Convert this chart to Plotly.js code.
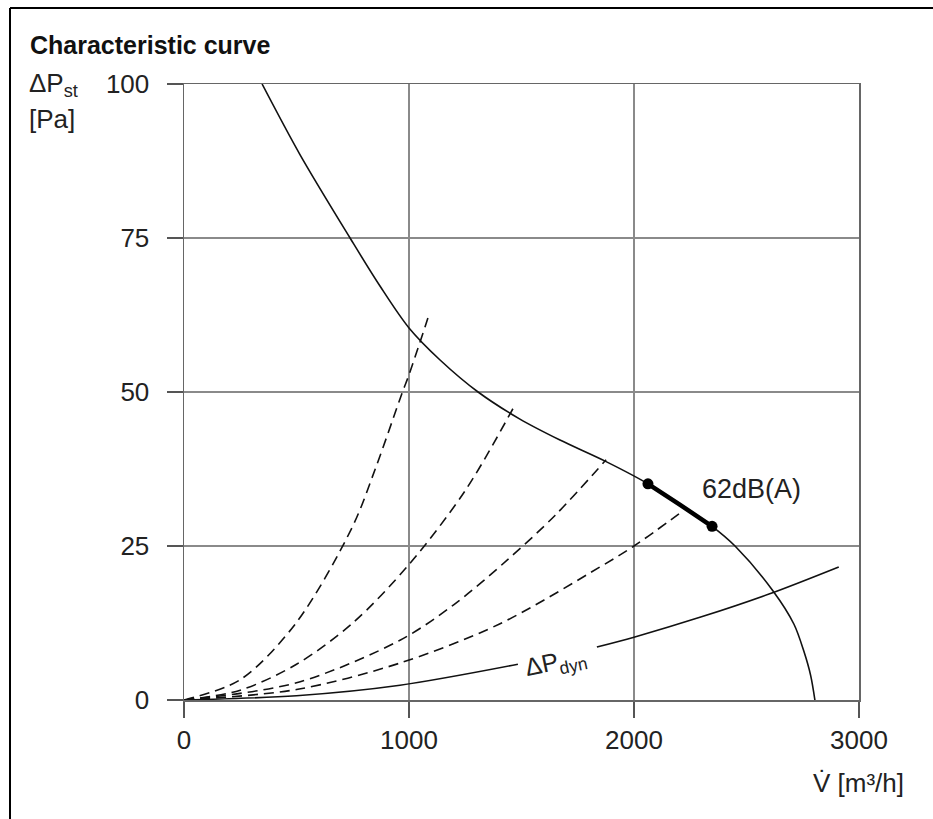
<!DOCTYPE html>
<html>
<head>
<meta charset="utf-8">
<script src="https://cdn.plot.ly/plotly-3.0.1.min.js"></script>
<style>html,body{margin:0;padding:0;background:#fff;}</style>
</head>
<body>
<div id="chart" style="width:933px;height:819px;"></div>
<script>
// ---- data ----
const fanV = [347, 516, 738, 871, 1000, 1138, 1307, 1493, 1671, 1876, 2062, 2200, 2347, 2449, 2618, 2711, 2755, 2785, 2804];
const fanP = [100, 88.5, 75, 67.2, 60.4, 55.2, 50, 45.6, 42.2, 38.7, 35.1, 31.8, 28.2, 25, 17.7, 12.3, 7.9, 4, 0];

const opV = [2062, 2200, 2347];
const opP = [35.1, 31.8, 28.2];
const opEndsV = [2062, 2347];
const opEndsP = [35.1, 28.2];

const sys1V = [0, 250, 498, 747, 850, 969, 1000, 1084];
const sys1P = [0, 3.3, 12.5, 28, 37.5, 49.8, 52.8, 62];
const sys2V = [0, 250, 500, 750, 1000, 1250, 1471];
const sys2P = [0, 1.6, 5.8, 12.5, 22, 34, 47.9];
const sys3V = [0, 500, 960, 1200, 1436, 1650, 1876];
const sys3P = [0, 2.8, 9.7, 15.5, 22.7, 30, 39];
const sys4V = [0, 500, 960, 1400, 1849, 2000, 2218];
const sys4P = [0, 1.7, 6.0, 12.3, 21.6, 25, 30.7];

const dynAV = [0, 500, 960, 1484];
const dynAP = [0, 0.7, 2.4, 5.8];
const dynBV = [1835, 2000, 2300, 2600, 2910];
const dynBP = [8.6, 10.2, 13.5, 17.2, 21.6];

const xTicks = [0, 1000, 2000, 3000];
const yTicks = [0, 25, 50, 75, 100];

const labelNoise = {text: '62dB(A)', V: 2520, P: 34.3};
const labelDyn = {text: '\u0394P<sub>dyn</sub>', V: 1653, P: 6.0};

// ---- drawing ----
const FONT = 'Liberation Sans, Arial, sans-serif';
const line = (x, y, opts) => Object.assign({
  x: x, y: y, type: 'scatter', mode: 'lines', hoverinfo: 'skip',
  line: {color: '#111', width: 1.6, shape: 'spline', smoothing: 0.9}
}, opts || {});

const dashStyle = {color: '#111', width: 1.6, dash: '10px,6px', shape: 'spline', smoothing: 0.9};

const traces = [
  line(sys1V, sys1P, {line: dashStyle}),
  line(sys2V, sys2P, {line: dashStyle}),
  line(sys3V, sys3P, {line: dashStyle}),
  line(sys4V, sys4P, {line: dashStyle}),
  line(dynAV, dynAP),
  line(dynBV, dynBP),
  line(fanV, fanP),
  line(opV, opP, {line: {color: '#000', width: 4.5, shape: 'spline'}}),
  {x: opEndsV, y: opEndsP, type: 'scatter', mode: 'markers', hoverinfo: 'skip',
   marker: {color: '#000', size: 11}}
];

// pixel helpers for paper coords
const L = 184, R = 859, T = 84, B = 700;
const px = v => (v - L) / (R - L);
const py = v => (B - v) / (B - T);

const layout = {
  width: 933, height: 819, autosize: false,
  margin: {l: L, r: 933 - R, t: T, b: 819 - B, pad: 0},
  paper_bgcolor: '#fff', plot_bgcolor: '#fff',
  showlegend: false,
  font: {family: FONT, color: '#222', size: 26},
  title: {
    text: '<b>Characteristic curve</b>',
    font: {family: FONT, size: 25, color: '#111'},
    xref: 'container', yref: 'container',
    x: 30 / 933, xanchor: 'left', y: 1 - 45 / 819, yanchor: 'middle'
  },
  xaxis: {
    range: [0, 3000], tickvals: xTicks, ticktext: xTicks.map(String),
    ticks: 'outside', ticklen: 16, tickwidth: 1.5, tickcolor: '#555',
    ticklabelstandoff: 0,
    showgrid: true, gridcolor: '#8a8a8a', gridwidth: 1.5,
    showline: true, linecolor: '#666', linewidth: 1.5, mirror: true,
    zeroline: false, fixedrange: true,
    tickfont: {family: FONT, size: 26, color: '#222'}
  },
  yaxis: {
    range: [0, 100], tickvals: yTicks, ticktext: yTicks.map(String),
    ticks: 'outside', ticklen: 16, tickwidth: 1.5, tickcolor: '#555',
    ticklabelstandoff: 12,
    showgrid: true, gridcolor: '#8a8a8a', gridwidth: 1.5,
    showline: true, linecolor: '#666', linewidth: 1.5, mirror: true,
    zeroline: false, fixedrange: true,
    tickfont: {family: FONT, size: 26, color: '#222'}
  },
  annotations: [
    {text: '\u0394P<sub>st</sub>', xref: 'paper', yref: 'paper', x: px(27), y: py(84),
     xanchor: 'left', yanchor: 'middle', showarrow: false,
     font: {family: FONT, size: 26, color: '#222'}},
    {text: '[Pa]', xref: 'paper', yref: 'paper', x: px(27), y: py(119),
     xanchor: 'left', yanchor: 'middle', showarrow: false,
     font: {family: FONT, size: 26, color: '#222'}},
    {text: 'V\u0307 [m\u00b3/h]', xref: 'paper', yref: 'paper', x: px(906), y: py(783),
     xanchor: 'right', yanchor: 'middle', showarrow: false,
     font: {family: FONT, size: 26, color: '#222'}},
    {text: labelNoise.text, x: labelNoise.V, y: labelNoise.P, xref: 'x', yref: 'y',
     xanchor: 'center', yanchor: 'middle', showarrow: false,
     font: {family: FONT, size: 27, color: '#222'}},
    {text: labelDyn.text, x: labelDyn.V, y: labelDyn.P, xref: 'x', yref: 'y',
     xanchor: 'center', yanchor: 'middle', showarrow: false, textangle: -12,
     font: {family: FONT, size: 25, color: '#222'}}
  ],
  shapes: [
    {type: 'line', xref: 'paper', yref: 'paper', x0: px(10), x1: px(933), y0: py(8), y1: py(8),
     line: {color: '#000', width: 2}},
    {type: 'line', xref: 'paper', yref: 'paper', x0: px(10), x1: px(10), y0: py(8), y1: py(819),
     line: {color: '#000', width: 2}}
  ]
};

Plotly.newPlot('chart', traces, layout, {staticPlot: true, displayModeBar: false});
</script>
</body>
</html>
